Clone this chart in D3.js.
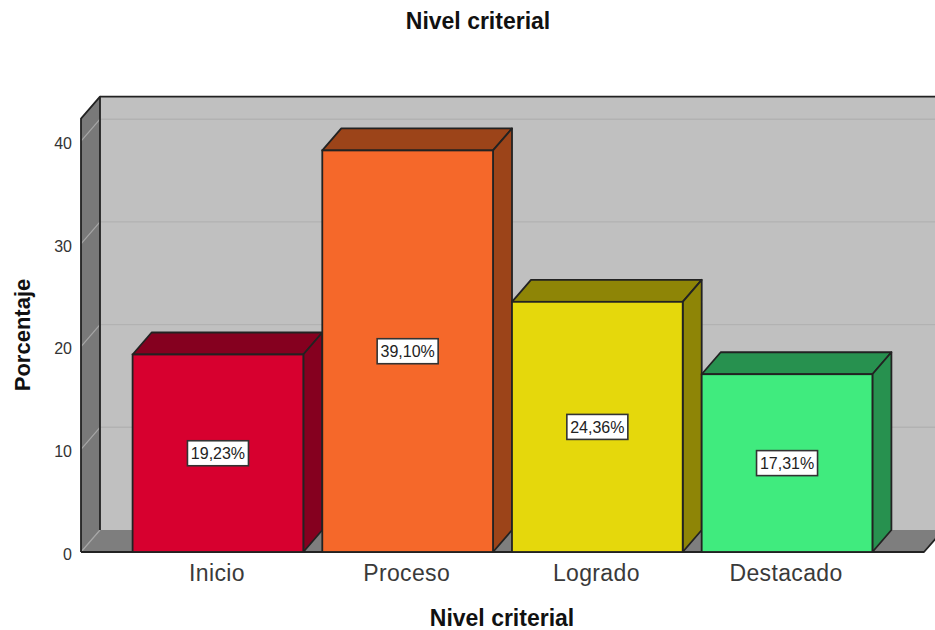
<!DOCTYPE html>
<html lang="es">
<head>
<meta charset="utf-8">
<title>Nivel criterial</title>
<script src="https://cdn.jsdelivr.net/npm/d3@7/dist/d3.min.js"></script>
<style>
  html, body { margin: 0; padding: 0; background: #fff; }
  svg { display: block; }
  text { font-family: "Liberation Sans", Arial, sans-serif; }
</style>
</head>
<body>
<svg id="chart" width="935" height="630"></svg>
<script>
// Chart data
const categories = ["Inicio", "Proceso", "Logrado", "Destacado"];
const percentages = [19.23, 39.10, 24.36, 17.31];
const frontColors = ["#D7002F", "#F5682A", "#E5D80C", "#40EB7E"];
const sideColors = ["#85001F", "#9C4419", "#8E8506", "#27914F"];
const yTicks = [0, 10, 20, 30, 40];

const width = 935, height = 630;
const plotLeft = 81, plotRight = 924, baseline = 552;
const depthX = 19, depthY = 22;
const yMax = 42.2;

const svg = d3.select("#chart").attr("viewBox", [0, 0, width, height]);

const x = d3.scaleBand().domain(categories).range([plotLeft, plotRight])
  .paddingInner(0.1).paddingOuter(0.272);
const y = d3.scaleLinear().domain([0, yMax]).range([baseline, baseline - yMax * 10.27]);

const edge = "#222";
const edgeWidth = 1.8;
const poly = pts => "M" + pts.map(p => p.join(",")).join("L") + "Z";
const openPath = pts => "M" + pts.map(p => p.join(",")).join("L");
const wallTop = y(yMax);
const backLeft = plotLeft + depthX, backRight = plotRight + depthX, backBase = baseline - depthY;

// Back wall, floor and side wall fills of the 3D box
svg.append("path")
  .attr("d", poly([[backLeft, wallTop - depthY], [backRight, wallTop - depthY], [backRight, backBase], [backLeft, backBase]]))
  .attr("fill", "#C0C0C0");
svg.append("path")
  .attr("d", poly([[plotLeft, baseline], [backLeft, backBase], [backRight, backBase], [plotRight, baseline]]))
  .attr("fill", "#7E7E7E");
svg.append("path")
  .attr("d", poly([[plotLeft, wallTop], [backLeft, wallTop - depthY], [backLeft, backBase], [plotLeft, baseline]]))
  .attr("fill", "#797979");

// Gridlines wrap from the side wall onto the back wall
const grid = svg.append("g").attr("fill", "none");
grid.selectAll("path.wall").data(yTicks).join("path").attr("class", "wall")
  .attr("d", t => `M${plotLeft},${y(t)}L${backLeft},${y(t) - depthY}`)
  .attr("stroke", "#A6A6A6").attr("stroke-width", 1.2);
grid.selectAll("path.back").data(yTicks.filter(t => t > 0)).join("path").attr("class", "back")
  .attr("d", t => `M${backLeft},${y(t) - depthY}H${backRight}`)
  .attr("stroke", "#B2B2B2").attr("stroke-width", 1.4);

// Dark outline of the box: side wall, top of the back wall, front of the floor
const outline = svg.append("g").attr("fill", "none").attr("stroke", edge)
  .attr("stroke-width", edgeWidth).attr("stroke-linejoin", "round");
outline.append("path")
  .attr("d", openPath([[plotLeft, baseline], [plotLeft, wallTop], [backLeft, wallTop - depthY], [backLeft, backBase]]));
outline.append("path")
  .attr("d", openPath([[backLeft, wallTop - depthY], [backRight, wallTop - depthY]]));
outline.append("path")
  .attr("d", openPath([[plotLeft, baseline], [plotRight, baseline], [backRight, backBase]]));

// Extruded bars
const bars = svg.append("g").selectAll("g").data(categories).join("g");
const barEdges = i => ({ x0: x(categories[i]), x1: x(categories[i]) + x.bandwidth(), yt: y(percentages[i]) });

bars.append("path")
  .attr("d", (d, i) => { const b = barEdges(i);
    return poly([[b.x0, b.yt], [b.x0 + depthX, b.yt - depthY], [b.x1 + depthX, b.yt - depthY], [b.x1, b.yt]]); })
  .attr("fill", (d, i) => sideColors[i]).attr("stroke", edge).attr("stroke-width", edgeWidth)
  .attr("stroke-linejoin", "round");
bars.append("path")
  .attr("d", (d, i) => { const b = barEdges(i);
    return poly([[b.x1, b.yt], [b.x1 + depthX, b.yt - depthY], [b.x1 + depthX, backBase], [b.x1, baseline]]); })
  .attr("fill", (d, i) => sideColors[i]).attr("stroke", edge).attr("stroke-width", edgeWidth)
  .attr("stroke-linejoin", "round");
bars.append("rect")
  .attr("x", d => x(d)).attr("width", x.bandwidth())
  .attr("y", (d, i) => y(percentages[i]))
  .attr("height", (d, i) => baseline - y(percentages[i]))
  .attr("fill", (d, i) => frontColors[i]).attr("stroke", edge).attr("stroke-width", edgeWidth);

// Value labels centred on each bar's front face
const fmt = v => v.toFixed(2).replace(".", ",") + "%";
const labelW = 61, labelH = 25;
const labels = svg.append("g").selectAll("g").data(categories).join("g")
  .attr("transform", (d, i) => `translate(${x(d) + x.bandwidth() / 2},${y(percentages[i] / 2)})`);
labels.append("rect")
  .attr("x", -labelW / 2).attr("y", -labelH / 2).attr("width", labelW).attr("height", labelH)
  .attr("fill", "#fff").attr("stroke", "#333").attr("stroke-width", 1.6);
labels.append("text")
  .attr("text-anchor", "middle").attr("dy", "0.36em")
  .attr("font-size", 16).attr("fill", "#222")
  .text((d, i) => fmt(percentages[i]));

// Axes
const yAxis = svg.append("g").attr("transform", `translate(${plotLeft},0)`)
  .call(d3.axisLeft(y).tickValues(yTicks).tickSize(0).tickPadding(9));
yAxis.select(".domain").remove();
yAxis.selectAll("text").attr("font-size", 16).attr("fill", "#333")
  .attr("font-family", null).attr("dy", "0.45em");

const xAxis = svg.append("g").attr("transform", `translate(-1,${baseline})`)
  .call(d3.axisBottom(x).tickSize(0).tickPadding(13));
xAxis.select(".domain").remove();
xAxis.selectAll("text").attr("font-size", 23).attr("letter-spacing", 0.35)
  .attr("fill", "#3A3A3A").attr("font-family", null);

// Titles
svg.append("text").attr("x", 478).attr("y", 29).attr("text-anchor", "middle")
  .attr("font-size", 23).attr("font-weight", "bold").attr("fill", "#111").text("Nivel criterial");
svg.append("text").attr("x", 502).attr("y", 626).attr("text-anchor", "middle")
  .attr("font-size", 23).attr("font-weight", "bold").attr("fill", "#111").text("Nivel criterial");
svg.append("text").attr("transform", "translate(30,335) rotate(-90)").attr("text-anchor", "middle")
  .attr("font-size", 22).attr("font-weight", "bold").attr("fill", "#111").text("Porcentaje");
</script>
</body>
</html>
